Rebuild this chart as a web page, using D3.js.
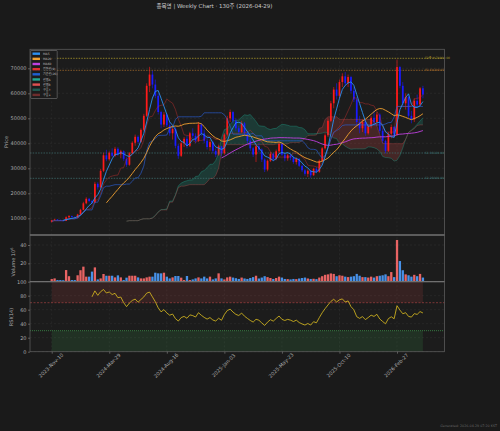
<!DOCTYPE html>
<html><head><meta charset="utf-8">
<script src="https://cdn.jsdelivr.net/npm/d3@7/dist/d3.min.js"></script>
<style>
html,body{margin:0;padding:0;background:#1a1a1a;}
svg{display:block;font-family:"DejaVu Sans","Noto Sans CJK KR",sans-serif;}
</style></head>
<body><svg id="c" width="500" height="431"></svg>
<script>
// ---------- data ----------
const titleText = "종목명  |  Weekly Chart · 130주  (2026-04-29)";
const tickIdx = [0, 20, 40, 60, 80, 100, 120];
const tickLabels = ["2023-Nov-10","2024-Mar-29","2024-Aug-16","2025-Jan-03","2025-May-23","2025-Oct-10","2026-Feb-27"];
const priceTicks = [10000,20000,30000,40000,50000,60000,70000];
const volTicks = [20, 40];
const rsiTicks = [0,20,40,60,80,100];

const open = [8600,9200,9500,9200,9100,9000,10400,10900,10500,10200,
11500,13400,16000,17800,16900,16300,23800,22400,29000,35200,
33600,36200,35000,37800,35600,36800,33800,31400,36000,40200,
42600,40600,45400,51000,63000,67500,63500,59000,52500,47500,
51500,47200,44000,45800,39000,35000,40000,41800,39000,44000,
43000,41000,47500,44000,41000,38500,40500,37000,35500,38800,
36000,43500,50000,52500,49000,46000,44500,48000,44000,41000,
38000,35500,38800,37500,33500,29500,33000,35800,33800,36800,
39800,35500,34000,35200,34200,32500,33800,31000,29200,27800,
29000,27200,29800,28600,33000,38000,43200,49000,56000,61500,
59000,64500,66800,64000,66500,61000,57500,48500,46000,48500,
44000,46800,50200,48500,51500,45000,41000,37000,43800,46500,
43500,70500,63000,56000,58500,51000,49500,57000,55500,62000];
const high = [9400,9800,9700,9500,9400,10800,11300,11100,10700,11800,
13800,16600,18400,18200,17400,24600,24400,29800,36200,37400,
36800,38000,38600,38400,37400,37200,34400,36500,40800,43500,
43200,46000,51800,64000,70600,69000,65500,60000,53000,52500,
52000,48500,47000,46500,39800,41000,42500,43000,44600,46000,
44000,48500,48000,45500,42000,41500,41000,38000,39500,39000,
44000,51000,53500,53000,50000,47000,49000,48500,44800,42000,
38500,39500,40000,38000,34000,33500,36500,36200,37500,40500,
40000,36000,35800,35600,35000,34400,34000,31500,29800,29600,
29400,30200,30500,33500,38500,44000,50000,57000,62500,64000,
65500,68000,68500,67500,67000,62500,58500,51000,49500,49000,
47500,51000,53000,52500,52000,46000,41500,44500,47500,47000,
73500,71000,64500,60000,59000,53000,58000,59500,62500,63000];
const low = [8300,9000,9000,8900,8800,8900,10100,10300,10000,10100,
11300,13200,15600,16400,15800,16000,21500,22000,28500,32800,
33000,34500,34600,35000,34000,33000,30600,31000,35600,39000,
39800,40200,44800,50500,60500,62000,58000,51500,46000,46500,
46500,43000,41500,38000,33800,34500,38500,38000,38500,42000,
40000,40500,43000,40000,37500,37000,36000,34500,35000,34800,
35500,43000,48500,48000,45000,43500,44000,43000,40000,37000,
34500,32500,36500,32500,28500,28800,32500,32800,33200,36000,
35000,32800,33000,33200,31800,31500,30500,28500,27000,26500,
26200,27000,28000,28200,32500,37500,42500,48500,54000,57500,
58000,62500,63000,62500,60000,56500,47000,44000,44500,43000,
43500,46000,47500,47000,44000,40000,36000,36500,42000,42500,
43000,62000,55000,53500,50000,48000,48500,54500,55000,58000];
const close = [9200,9500,9200,9100,9000,10400,10900,10500,10200,11500,
13400,16000,17800,16900,16300,23800,22400,29000,35200,33600,
36200,35000,37800,35600,36800,33800,31400,36000,40200,42600,
40600,45400,51000,63000,67500,63500,59000,52500,47500,51500,
47200,44000,45800,39000,35000,40000,41800,39000,44000,43000,
41000,47500,44000,41000,38500,40500,37000,35500,38800,36000,
43500,50000,52500,49000,46000,44500,48000,44000,41000,38000,
35500,38800,37500,33500,29500,33000,35800,33800,36800,39800,
35500,34000,35200,34200,32500,33800,31000,29200,27800,29000,
27200,29800,28600,33000,38000,43200,49000,56000,61500,59000,
64500,66800,64000,66500,61000,57500,48500,46000,48500,44000,
46800,50200,48500,51500,45000,41000,37000,43800,46500,43500,
70500,63000,56000,58500,51000,49500,57000,55500,62000,59500];
// volume in millions
const volume = [2.9,3.6,1.8,1.8,1.6,12.7,6.0,1.8,1.8,7.0,
12.5,16.4,5.5,5.5,11.0,15.6,2.5,3.6,8.4,6.5,
6.5,6.5,4.7,6.9,4.7,1.8,4.4,6.5,6.5,6.5,
4.7,3.6,3.6,4.7,5.5,5.5,9.8,9.1,9.1,9.8,
5.5,3.6,4.7,6.2,6.2,4.4,1.8,6.2,1.8,2.5,
3.6,4.7,3.6,5.5,3.6,5.5,2.5,3.6,9.1,3.6,
2.5,4.7,5.5,4.5,3.8,3.0,4.5,3.5,3.0,4.0,
5.0,6.5,3.5,4.5,6.0,5.0,4.0,3.0,4.0,5.5,
4.5,3.0,2.8,2.5,3.0,2.8,3.5,4.0,4.5,3.5,
3.0,3.2,2.8,4.5,6.0,7.5,8.0,9.0,8.5,6.0,
7.0,6.5,5.5,5.0,5.5,6.0,8.5,6.5,5.0,5.0,
4.5,5.5,4.5,6.0,6.5,7.0,8.0,6.0,10.5,5.0,
45.5,22.5,12.5,8.0,7.0,5.5,7.5,6.0,8.5,4.5];

const levelValues = [74000, 69200, 36120, 26000];
const levelLabels = ["52주 H 74000.00", "R1 69200.00", "S1 36120.00", "S2 26000.00"];
const levelColors = ["#a8962a", "#a0682a", "#3d6b6b", "#3d6b6b"];

const legendLabels = ["MA5","MA20","MA60","전환선(9)","기준선(26)","선행A","선행B","구름↑","구름↓"];
const legendColors = ["#2b8ff0","#f0a030","#c040e0","#e03030","#2060d0","#20a890","#e05050","#1f5a50","#6e2c2c"];
const footerText = "Generated: 2026-04-29 07:20 KST";

// ---------- indicators (derived from OHLC) ----------
const N = close.length;
const idx = d3.range(N);
function sma(n){ return idx.map(i => i < n-1 ? null : d3.mean(close.slice(i-n+1, i+1))); }
function midRange(n){ return idx.map(i => { const s = Math.max(0, i-n+1); return (d3.max(high.slice(s,i+1)) + d3.min(low.slice(s,i+1)))/2; }); }
const ma5 = sma(5), ma20 = sma(20), ma60 = sma(60);
const tenkan = midRange(9), kijun = midRange(26), spanBraw = midRange(52);
const spanA = idx.map(i => i >= 26 ? (tenkan[i-26] + kijun[i-26])/2 : null);
const spanB = idx.map(i => i >= 26 ? spanBraw[i-26] : null);
const rsi = new Array(N).fill(null);
(function(){
  let ag=0, al=0;
  for (let i=1;i<=14;i++){ const d=close[i]-close[i-1]; ag+=Math.max(d,0); al+=Math.max(-d,0); }
  ag/=14; al/=14; rsi[14] = al===0?100:100-100/(1+ag/al);
  for (let i=15;i<N;i++){ const d=close[i]-close[i-1]; ag=(ag*13+Math.max(d,0))/14; al=(al*13+Math.max(-d,0))/14; rsi[i]= al===0?100:100-100/(1+ag/al); }
})();

// ---------- layout ----------
const svg = d3.select("#c");
const L = 30, R = 444.5;
const pTop = 49.3, pBot = 235, vBot = 281.7, rBot = 351.7;
const x = d3.scaleLinear().domain([-7.55, 136.5]).range([L, R]);
const yP = d3.scaleLinear().domain([3320, 77600]).range([pBot, pTop]);
const yV = d3.scaleLinear().domain([0, 50.9]).range([vBot, pBot]);
const yR = d3.scaleLinear().domain([0, 100]).range([rBot, vBot]);
const step = x(1) - x(0);

svg.append("rect").attr("width",500).attr("height",431).attr("fill","#1a1a1a");
// panel backgrounds
[[pTop,pBot],[pBot,vBot],[vBot,rBot]].forEach(([a,b])=>{
  svg.append("rect").attr("x",L).attr("y",a).attr("width",R-L).attr("height",b-a).attr("fill","#1c1c1c");
});
const defs = svg.append("defs");
defs.append("clipPath").attr("id","cp").append("rect").attr("x",L).attr("y",pTop).attr("width",R-L).attr("height",pBot-pTop);

// grid
const grid = svg.append("g").attr("stroke","#333").attr("stroke-width",0.5).attr("stroke-dasharray","2,2");
priceTicks.forEach(t=>grid.append("line").attr("x1",L).attr("x2",R).attr("y1",yP(t)).attr("y2",yP(t)));
volTicks.forEach(t=>grid.append("line").attr("x1",L).attr("x2",R).attr("y1",yV(t)).attr("y2",yV(t)));
rsiTicks.forEach(t=>grid.append("line").attr("x1",L).attr("x2",R).attr("y1",yR(t)).attr("y2",yR(t)));
tickIdx.forEach(t=>grid.append("line").attr("x1",x(t)).attr("x2",x(t)).attr("y1",pTop).attr("y2",rBot));

// ---------- price panel ----------
const gp = svg.append("g").attr("clip-path","url(#cp)");
// cloud
const cloudData = idx.filter(i => spanA[i] != null);
gp.append("path").datum(cloudData)
  .attr("d", d3.area().x(i=>x(i)).y0(i=>yP(spanB[i])).y1(i=>yP(Math.max(spanA[i],spanB[i]))))
  .attr("fill","#20a890").attr("fill-opacity",0.22);
gp.append("path").datum(cloudData)
  .attr("d", d3.area().x(i=>x(i)).y0(i=>yP(spanA[i])).y1(i=>yP(Math.max(spanA[i],spanB[i]))))
  .attr("fill","#c04444").attr("fill-opacity",0.25);

// level lines
levelValues.forEach((v,k)=>{
  gp.append("line").attr("x1",L).attr("x2",R).attr("y1",yP(v)).attr("y2",yP(v))
    .attr("stroke",levelColors[k]).attr("stroke-width",0.8).attr("stroke-dasharray","1.5,1.2");
});

const lineFn = arr => d3.line().defined(i=>arr[i]!=null).x(i=>x(i)).y(i=>yP(arr[i]));

// candles
const cw = step*0.6;
const cg = gp.append("g");
idx.forEach(i=>{
  const up = close[i] >= open[i];
  const col = up ? "#ff1a1a" : "#1a1aff";
  cg.append("line").attr("x1",x(i)).attr("x2",x(i)).attr("y1",yP(high[i])).attr("y2",yP(low[i]))
    .attr("stroke",col).attr("stroke-width",0.6);
  const yt = yP(Math.max(open[i],close[i])), yb = yP(Math.min(open[i],close[i]));
  cg.append("rect").attr("x",x(i)-cw/2).attr("y",yt).attr("width",cw).attr("height",Math.max(0.6,yb-yt)).attr("fill",col);
});

// ichimoku lines
gp.append("path").attr("d",lineFn(spanA)(idx)).attr("fill","none").attr("stroke","#20a890").attr("stroke-opacity",0.6).attr("stroke-width",0.6);
gp.append("path").attr("d",lineFn(spanB)(idx)).attr("fill","none").attr("stroke","#e05050").attr("stroke-opacity",0.5).attr("stroke-width",0.6);
gp.append("path").attr("d",lineFn(tenkan)(idx)).attr("fill","none").attr("stroke","#d03030").attr("stroke-opacity",0.6).attr("stroke-width",0.7);
gp.append("path").attr("d",lineFn(kijun)(idx)).attr("fill","none").attr("stroke","#2a60d8").attr("stroke-opacity",0.8).attr("stroke-width",0.8);
// MAs
gp.append("path").attr("d",lineFn(ma60)(idx)).attr("fill","none").attr("stroke","#c040e0").attr("stroke-width",0.9);
gp.append("path").attr("d",lineFn(ma20)(idx)).attr("fill","none").attr("stroke","#f0a030").attr("stroke-width",0.9);
gp.append("path").attr("d",lineFn(ma5)(idx)).attr("fill","none").attr("stroke","#2b8ff0").attr("stroke-width",0.9);

// level labels
levelValues.forEach((v,k)=>{
  svg.append("text").attr("x",x(N-1)+2).attr("y",yP(v)+1).attr("font-size",3).attr("fill",levelColors[k]).text(levelLabels[k]);
});

// ---------- volume ----------
const vw = step*0.8;
const vg = svg.append("g");
idx.forEach(i=>{
  const up = close[i] >= open[i];
  vg.append("rect").attr("x",x(i)-vw/2).attr("y",yV(volume[i])).attr("width",vw).attr("height",vBot-yV(volume[i]))
    .attr("fill", up ? "#ff6b6b" : "#4d9fff").attr("fill-opacity",0.9);
});

// ---------- RSI ----------
const rg = svg.append("g");
rg.append("rect").attr("x",x(0)).attr("width",x(N-1)-x(0)).attr("y",yR(100)).attr("height",yR(70)-yR(100)).attr("fill","#c04444").attr("fill-opacity",0.16);
rg.append("rect").attr("x",x(0)).attr("width",x(N-1)-x(0)).attr("y",yR(30)).attr("height",yR(0)-yR(30)).attr("fill","#40a050").attr("fill-opacity",0.16);
rg.append("line").attr("x1",L).attr("x2",R).attr("y1",yR(70)).attr("y2",yR(70)).attr("stroke","#a04040").attr("stroke-width",0.7).attr("stroke-dasharray","2,1.5");
rg.append("line").attr("x1",L).attr("x2",R).attr("y1",yR(30)).attr("y2",yR(30)).attr("stroke","#40a050").attr("stroke-width",0.7).attr("stroke-dasharray","1,1");
rg.append("path").attr("d", d3.line().defined(i=>rsi[i]!=null).x(i=>x(i)).y(i=>yR(rsi[i]))(idx))
  .attr("fill","none").attr("stroke","#e0c020").attr("stroke-width",0.8);

// ---------- frames ----------
[[pTop,pBot],[pBot,vBot],[vBot,rBot]].forEach(([a,b])=>{
  svg.append("rect").attr("x",L).attr("y",a).attr("width",R-L).attr("height",b-a).attr("fill","none").attr("stroke","#5a5a5a").attr("stroke-width",0.8);
});
svg.append("line").attr("x1",L).attr("x2",R).attr("y1",pBot).attr("y2",pBot).attr("stroke","#777").attr("stroke-width",1);
svg.append("line").attr("x1",L).attr("x2",R).attr("y1",vBot).attr("y2",vBot).attr("stroke","#777").attr("stroke-width",1);

// ---------- axes ----------
function styleAxis(g){
  g.select(".domain").remove();
  g.selectAll(".tick line").attr("stroke","#888").attr("stroke-width",0.6);
  g.selectAll(".tick text").attr("fill","#aaa").attr("font-size",5).attr("font-family","DejaVu Sans");
}
svg.append("g").attr("transform",`translate(${L},0)`).call(d3.axisLeft(yP).tickValues(priceTicks).tickSize(2).tickPadding(1.5).tickFormat(d3.format("d"))).call(styleAxis);
svg.append("g").attr("transform",`translate(${L},0)`).call(d3.axisLeft(yV).tickValues(volTicks).tickSize(2).tickPadding(1.5)).call(styleAxis);
svg.append("g").attr("transform",`translate(${L},0)`).call(d3.axisLeft(yR).tickValues(rsiTicks).tickSize(2).tickPadding(1.5)).call(styleAxis);
const xa = svg.append("g").attr("transform",`translate(0,${rBot})`)
  .call(d3.axisBottom(x).tickValues(tickIdx).tickSize(2).tickFormat((d,k)=>tickLabels[k])).call(styleAxis);
xa.selectAll(".tick text").attr("text-anchor","middle").attr("dy",0).attr("y",0)
  .attr("transform","translate(0,15) rotate(-45)");

// axis titles
const at = (t,xx,yy)=>svg.append("text").attr("transform",`translate(${xx},${yy}) rotate(-90)`).attr("text-anchor","middle")
  .attr("fill","#aaa").attr("font-size",5).text(t);
at("Price", 7.5, 142);
const vt = svg.append("text").attr("transform",`translate(15,262) rotate(-90)`).attr("text-anchor","middle").attr("fill","#aaa").attr("font-size",5);
vt.append("tspan").text("Volume  10");
vt.append("tspan").attr("font-size",3.5).attr("dy",-2).text("6");
at("RSI(14)", 13, 317);

// title
svg.append("text").attr("x",214.5).attr("y",8).attr("text-anchor","middle").attr("fill","#ccc").attr("font-size",5.5).text(titleText);

// legend
const lg = svg.append("g");
lg.append("rect").attr("x",30.7).attr("y",50.5).attr("width",26.5).attr("height",48).attr("fill","#1c1c1c").attr("fill-opacity",0.85).attr("stroke","#888").attr("stroke-width",0.5).attr("rx",0.8);
legendLabels.forEach((t,k)=>{
  const yy = 53.7 + k*5.15;
  lg.append("rect").attr("x",32.5).attr("y",yy-1.2).attr("width",7.5).attr("height",2.4).attr("fill",legendColors[k]);
  lg.append("text").attr("x",43).attr("y",yy+1.1).attr("fill","#bbb").attr("font-size",3).text(t);
});

// footer
svg.append("text").attr("x",497).attr("y",426.5).attr("text-anchor","end").attr("fill","#666").attr("font-size",3.3).text(footerText);
</script></body></html>
